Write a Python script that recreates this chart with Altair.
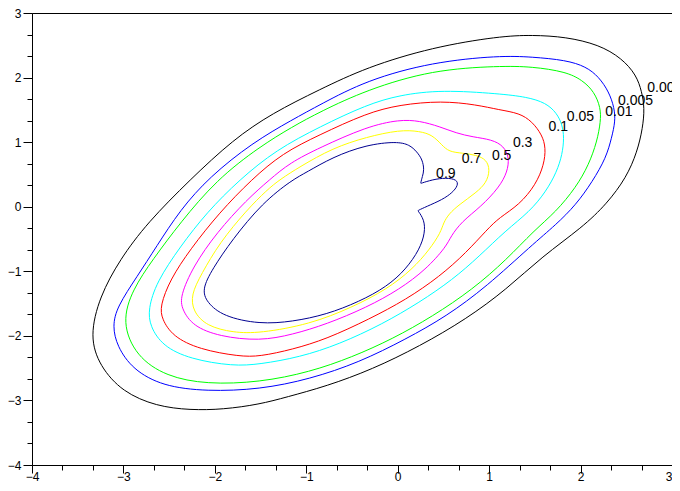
import altair as alt
import pandas as pd

# contour levels and their colours (0.7 is drawn in white in the original, so only its label shows)
levels = ["0.001", "0.005", "0.01", "0.05", "0.1", "0.3", "0.5", "0.9"]
colors = ["#000000", "#0000ff", "#00ff00", "#00ffff", "#ff0000", "#ff00ff", "#ffff00", "#000090"]

# curve points
c001_x = [-0.86, -0.34, 0.38, 1.11, 1.47, 1.84, 2.20, 2.45, 2.61, 2.67, 2.70, 2.68, 2.62, 2.50, 2.29,
          2.02, 1.58, 1.19, 0.75, 0.24, -0.28, -0.78, -1.22, -1.51, -1.91, -2.27, -2.64, -3.01, -3.26,
          -3.37, -3.26, -3.04, -2.74, -2.27, -1.80, -1.37]
c001_y = [1.81, 2.16, 2.47, 2.64, 2.66, 2.63, 2.51, 2.30, 2.04, 1.78, 1.53, 1.22, 0.85, 0.45, 0.05,
          -0.32, -0.77, -1.28, -1.74, -2.16, -2.52, -2.78, -2.95, -3.06, -3.14, -3.15, -3.09, -2.87,
          -2.47, -2.01, -1.39, -0.82, -0.25, 0.42, 1.04, 1.45]

c005_x = [-0.85, -0.34, 0.38, 1.11, 1.47, 1.84, 2.06, 2.20, 2.31, 2.37, 2.38, 2.34, 2.28, 2.13, 1.95,
          1.73, 1.47, 0.97, 0.53, 0.09, -0.42, -0.96, -1.51, -2.09, -2.57, -2.90, -3.07, -3.12, -3.07,
          -2.85, -2.64, -2.38, -2.06, -1.59, -1.15]
c005_y = [1.58, 1.96, 2.24, 2.34, 2.32, 2.27, 2.17, 2.01, 1.78, 1.53, 1.32, 1.07, 0.76, 0.39, 0.03,
          -0.28, -0.59, -1.24, -1.70, -2.05, -2.41, -2.67, -2.83, -2.86, -2.78, -2.52, -2.16, -1.85,
          -1.55, -1.08, -0.62, -0.05, 0.46, 0.99, 1.35]

c01_x = [-0.85, -0.34, 0.38, 1.11, 1.47, 1.84, 2.02, 2.15, 2.22, 2.22, 2.18, 2.09, 1.95, 1.73, 1.49,
         1.19, 0.82, 0.38, -0.06, -0.50, -0.96, -1.51, -2.09, -2.53, -2.86, -3.02, -2.90, -2.68, -2.38,
         -1.98, -1.51, -1.15]
c01_y = [1.47, 1.81, 2.12, 2.18, 2.17, 2.09, 1.96, 1.78, 1.53, 1.32, 1.01, 0.65, 0.30, -0.08, -0.37,
         -0.82, -1.28, -1.70, -2.05, -2.33, -2.56, -2.72, -2.75, -2.63, -2.32, -1.79, -1.28, -0.82,
         -0.25, 0.42, 0.93, 1.24]

c05_x = [-0.85, -0.34, 0.02, 0.48, 1.11, 1.41, 1.62, 1.74, 1.80, 1.82, 1.80, 1.74, 1.62, 1.44, 1.18,
         0.89, 0.60, 0.24, -0.17, -0.64, -1.07, -1.51, -1.80, -2.27, -2.57, -2.71, -2.73, -2.64, -2.38,
         -2.09, -1.73, -1.33]
c05_y = [1.24, 1.58, 1.73, 1.81, 1.75, 1.70, 1.61, 1.45, 1.27, 1.07, 0.81, 0.54, 0.23, -0.08, -0.37,
         -0.77, -1.13, -1.48, -1.82, -2.13, -2.33, -2.44, -2.47, -2.36, -2.16, -1.85, -1.59, -1.17,
         -0.62, -0.09, 0.42, 0.88]

c1_x = [-0.86, -0.34, 0.02, 0.48, 0.86, 1.11, 1.33, 1.47, 1.58, 1.62, 1.60, 1.51, 1.33, 1.11, 0.98,
        0.75, 0.46, 0.09, -0.31, -0.78, -1.15, -1.51, -1.73, -2.17, -2.46, -2.58, -2.60, -2.49, -2.27,
        -1.95, -1.60, -1.26]
c1_y = [1.11, 1.45, 1.58, 1.64, 1.58, 1.50, 1.45, 1.32, 1.11, 0.91, 0.65, 0.34, 0.03, -0.17, -0.35,
        -0.71, -1.08, -1.44, -1.74, -2.05, -2.21, -2.32, -2.32, -2.21, -2.01, -1.74, -1.54, -1.13,
        -0.66, -0.09, 0.42, 0.83]

c3_x = [-1.18, -0.86, -0.34, 0.02, 0.24, 0.46, 0.64, 0.82, 1.03, 1.16, 1.22, 1.20, 1.11, 0.91, 0.70,
        0.58, 0.53, 0.31, 0.02, -0.34, -0.78, -1.15, -1.51, -1.95, -2.24, -2.36, -2.38, -2.24, -1.98,
        -1.65, -1.40]
c3_y = [0.68, 0.91, 1.24, 1.35, 1.33, 1.24, 1.14, 1.08, 1.04, 0.94, 0.76, 0.54, 0.30, 0.00, -0.23,
        -0.46, -0.62, -0.97, -1.28, -1.56, -1.82, -1.98, -2.08, -2.01, -1.85, -1.59, -1.39, -0.93,
        -0.40, 0.11, 0.42]

c5_x = [-1.07, -0.71, -0.34, 0.02, 0.24, 0.38, 0.48, 0.56, 0.71, 0.86, 0.97, 1.01, 0.97, 0.86, 0.67,
        0.56, 0.50, 0.47, 0.35, 0.16, -0.12, -0.50, -0.96, -1.51, -1.80, -2.09, -2.24, -2.26, -2.15,
        -1.95, -1.65, -1.43, -1.29]
c5_y = [0.62, 0.91, 1.08, 1.19, 1.17, 1.11, 0.96, 0.85, 0.83, 0.80, 0.73, 0.57, 0.37, 0.22, 0.03,
        -0.11, -0.25, -0.40, -0.66, -0.97, -1.28, -1.56, -1.82, -1.96, -1.95, -1.85, -1.62, -1.36,
        -1.05, -0.56, -0.05, 0.26, 0.42]

c9_x = [-1.00, -0.71, -0.34, -0.01, 0.13, 0.21, 0.27, 0.29, 0.27, 0.25, 0.25, 0.38, 0.53, 0.65, 0.66,
        0.60, 0.49, 0.31, 0.22, 0.22, 0.29, 0.30, 0.24, 0.09, -0.12, -0.42, -0.78, -1.15, -1.51, -1.91,
        -2.09, -2.14, -2.03, -1.81, -1.48, -1.15]
c9_y = [0.53, 0.77, 0.96, 1.01, 0.96, 0.85, 0.73, 0.57, 0.47, 0.36, 0.36, 0.42, 0.45, 0.42, 0.33,
        0.22, 0.11, 0.00, -0.06, -0.06, -0.20, -0.40, -0.66, -0.97, -1.24, -1.47, -1.67, -1.78, -1.82,
        -1.70, -1.48, -1.28, -0.97, -0.51, 0.06, 0.42]

# inline labels: text, left x, baseline y
label_text = ["0.001", "0.005", "0.01", "0.05", "0.1", "0.3", "0.5", "0.7", "0.9"]
label_x = [2.73, 2.41, 2.27, 1.85, 1.65, 1.26, 1.03, 0.70, 0.42]
label_y = [1.78, 1.58, 1.41, 1.32, 1.18, 0.93, 0.73, 0.67, 0.45]

# axis ticks: labelled integers, two unlabelled minor ticks between them
major_ticks = [-4, -3, -2, -1, 0, 1, 2, 3]
minor_a = [-3.6667, -2.6667, -1.6667, -0.6667, 0.3333, 1.3333, 2.3333]
minor_b = [-3.3333, -2.3333, -1.3333, -0.3333, 0.6667, 1.6667, 2.6667]

curves = {
    "0.001": (c001_x, c001_y),
    "0.005": (c005_x, c005_y),
    "0.01": (c01_x, c01_y),
    "0.05": (c05_x, c05_y),
    "0.1": (c1_x, c1_y),
    "0.3": (c3_x, c3_y),
    "0.5": (c5_x, c5_y),
    "0.9": (c9_x, c9_y),
}
rows = []
for lev, (xs, ys) in curves.items():
    for i, (a, b) in enumerate(zip(xs, ys)):
        rows.append({"level": lev, "i": i, "x": a, "y": b})
df = pd.DataFrame(rows)
labels = pd.DataFrame({"text": label_text, "x": label_x, "y": label_y})


def major_axis(orient, tick, pad, **kw):
    return alt.Axis(
        orient=orient,
        values=major_ticks,
        format="d",
        tickSize=tick,
        grid=False,
        labelOverlap=False,
        labelFlush=False,
        labelFont="Liberation Sans",
        labelFontSize=12,
        labelColor="black",
        domainColor="black",
        tickColor="black",
        labelPadding=pad,
        title="",
        **kw,
    )


def minor_axis(orient, vals):
    return alt.Axis(
        orient=orient,
        values=vals,
        tickSize=5,
        labels=False,
        domain=False,
        grid=False,
        tickColor="black",
        title="",
    )


xs = alt.Scale(domain=[-4, 3], nice=False, zero=False)
ys = alt.Scale(domain=[-4, 3], nice=False, zero=False)

# the last x label sits at the page edge, keep it inside
x_align = {"condition": {"test": "datum.value === 3", "value": "right"}, "value": "center"}

lines = (
    alt.Chart(df)
    .mark_line(strokeWidth=1, interpolate="basis-closed")
    .encode(
        alt.X("x:Q", scale=xs, axis=major_axis("bottom", 8, -2, labelAlign=x_align)),
        alt.Y("y:Q", scale=ys, axis=major_axis("left", 9, 2)),
        alt.Color("level:N", scale=alt.Scale(domain=levels, range=colors), legend=None),
        alt.Order("i:Q"),
        alt.Detail("level:N"),
    )
)

text = (
    alt.Chart(labels)
    .mark_text(align="left", baseline="alphabetic", font="Liberation Sans", fontSize=14, color="black")
    .encode(
        alt.X("x:Q", scale=xs, axis=minor_axis("bottom", minor_a)),
        alt.Y("y:Q", scale=ys, axis=minor_axis("left", minor_a)),
        alt.Text("text:N"),
    )
)

# invisible layer that only carries the second set of minor ticks
ghost = (
    alt.Chart(labels)
    .mark_point(opacity=0)
    .encode(
        alt.X("x:Q", scale=xs, axis=minor_axis("bottom", minor_b)),
        alt.Y("y:Q", scale=ys, axis=minor_axis("left", minor_b)),
    )
)

chart = (
    alt.layer(lines, text, ghost)
    .resolve_axis(x="independent", y="independent")
    .properties(
        width=640,
        height=452,
        autosize="none",
        padding={"left": 24, "top": 5, "right": 0, "bottom": 18},
    )
    .configure_view(stroke="black", strokeWidth=1)
)

chart.save("out.html", embed_options={"renderer": "svg", "actions": False})
